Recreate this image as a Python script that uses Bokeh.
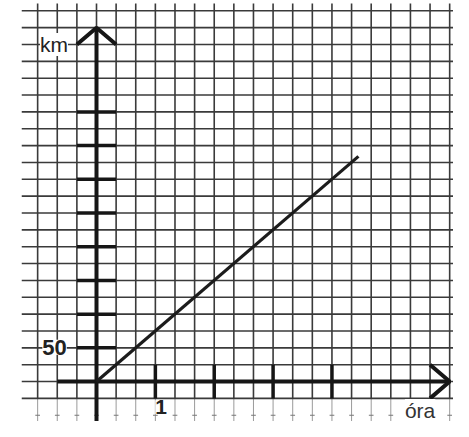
from bokeh.plotting import figure
from bokeh.models import Range1d
from bokeh.core.properties import value
from bokeh.embed import file_html
from bokeh.resources import INLINE

# ---- data ----
hours = [0, 4.45]          # time (óra)
km = [0, 334]              # distance (km), 75 km/h
x_ticks = [1, 2, 3, 4]
y_ticks = [50, 100, 150, 200, 250, 300, 350, 400]
x_tick_label = "1"
y_tick_label = "50"
x_title = "óra"
y_title = "km"

CELL_H = 1 / 3   # hours per grid cell
CELL_KM = 25     # km per grid cell

p = figure(width=453, height=421, output_backend="svg", toolbar_location=None,
           x_axis_type=None, y_axis_type=None, min_border=0,
           x_range=Range1d(-1.631, 6.065), y_range=Range1d(-59.3, 565.3))
p.outline_line_color = None
p.background_fill_color = "white"

grid_col = "#3a3a3a"
# vertical grid lines
vx = [-1 + k * CELL_H for k in range(22)]
p.segment(x0=vx, y0=[-CELL_KM] * len(vx), x1=vx, y1=[561] * len(vx),
          line_color=grid_col, line_width=1.6)
# faint continuation below
p.segment(x0=vx, y0=[-80] * len(vx), x1=vx, y1=[-CELL_KM] * len(vx),
          line_color="#9a9a9a", line_width=1)
# small dashes on faint row
p.segment(x0=[v - 0.04 for v in vx], y0=[-50] * len(vx),
          x1=[v + 0.04 for v in vx], y1=[-50] * len(vx),
          line_color="#777777", line_width=1.2)
# horizontal grid lines
hy = [-CELL_KM + k * CELL_KM for k in range(24)]
p.segment(x0=[-1.27] * len(hy), y0=hy, x1=[6.3] * len(hy), y1=hy,
          line_color=grid_col, line_width=1.6)

axis_col = "#161616"
# y axis
p.segment(x0=[0], y0=[-80], x1=[0], y1=[525], line_color=axis_col, line_width=4)
p.line(x=[-CELL_H, 0, CELL_H], y=[500, 525, 500], line_color=axis_col, line_width=4)
# x axis
p.segment(x0=[-2 * CELL_H], y0=[0], x1=[6.0], y1=[0], line_color=axis_col, line_width=4)
p.line(x=[6.0 - CELL_H, 6.0, 6.0 - CELL_H], y=[CELL_KM, 0, -CELL_KM],
       line_color=axis_col, line_width=4)

# ticks
p.segment(x0=x_ticks, y0=[-CELL_KM] * 4, x1=x_ticks, y1=[CELL_KM] * 4,
          line_color=axis_col, line_width=3.5)
p.segment(x0=[-CELL_H] * len(y_ticks), y0=y_ticks, x1=[CELL_H] * len(y_ticks), y1=y_ticks,
          line_color=axis_col, line_width=3.5)

# data line
p.line(x=hours, y=km, line_color="#1c1c1c", line_width=3.2)

# labels
p.text(x=[-0.96], y=[500], text=[y_title], text_font=value("Liberation Sans"),
       text_font_size="21px", text_color="#222222", text_align="left",
       text_baseline="alphabetic", background_fill_color="white")
p.text(x=[-0.92], y=[51], text=[y_tick_label], text_font=value("Liberation Sans"),
       text_font_size="22px", text_font_style="bold", text_color="#222222",
       text_align="left", text_baseline="middle", background_fill_color="white")
p.text(x=[1.0], y=[-38], text=[x_tick_label], text_font=value("Liberation Sans"),
       text_font_size="21px", text_font_style="bold", text_color="#222222",
       text_align="left", text_baseline="middle", background_fill_color="white")
p.text(x=[5.24], y=[-43], text=[x_title], text_font=value("Liberation Sans"),
       text_font_size="21px", text_color="#333333", text_align="left",
       text_baseline="alphabetic", background_fill_color="white")

open("out.html", "w").write(file_html(p, INLINE))
